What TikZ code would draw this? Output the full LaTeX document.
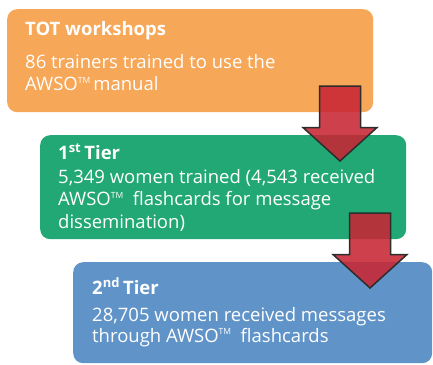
\documentclass[tikz,border=0pt]{standalone}
\usepackage{fontspec}
\setmainfont{Open Sans}
\usetikzlibrary{positioning}
\definecolor{totorange}{RGB}{247,167,88}
\definecolor{tiergreen}{RGB}{34,168,117}
\definecolor{tierblue}{RGB}{96,148,200}
\definecolor{arrowred}{RGB}{200,38,52}
\definecolor{arrowline}{RGB}{45,45,45}
% small trade mark after AWSO
\newcommand{\tmark}{\raisebox{.75ex}{\fontsize{8.5}{8.5}\selectfont TM}}
% block arrow pointing down, #1 is the middle of its top edge
\newcommand{\mkdownarrow}[1]{\draw[blockarrow] (#1) ++(-20.5,0) -- ++(0,41.5) -- ++(-16.5,0) -- ++(37,33.5) -- ++(37,-33.5) -- ++(-16.5,0) -- ++(0,-41.5) -- cycle;}

\begin{document}
\begin{tikzpicture}[
    x=1pt,y=-1pt,
    box/.style={rounded corners=10pt,inner sep=0pt,anchor=north west},
    title/.style={text=white,font=\fontsize{18.5}{22}\selectfont\bfseries,anchor=base west,inner sep=0pt},
    body/.style={text=white,font=\fontsize{18.5}{22.5}\selectfont,align=left,anchor=north west,inner sep=0pt},
    blockarrow/.style={fill=arrowred,fill opacity=.88,draw=arrowline,line width=1.5pt,line join=miter},
    ]
    \useasboundingbox (0,0) rectangle (433,364);

    % TOT workshops
    \node[box,fill=totorange,minimum width=366pt,minimum height=103pt] (tot) at (7,9) {};
    \node[title] (tottitle) at (25,35) {TOT workshops};
    \node[body] (totbody) at (25,54) {86 trainers trained to use the\\AWSO\tmark\,manual};

    % 1st tier
    \node[box,fill=tiergreen,minimum width=366pt,minimum height=104pt] (tier1) at (40,135) {};
    \node[title] (tier1title) at (58,159) {1\textsuperscript{st}\,Tier};
    \node[body] (tier1body) at (58,169) {5,349 women trained (4,543 received\\AWSO\tmark\ \ flashcards for message\\dissemination)};
    \coordinate (arr1) at (340,86);
    \mkdownarrow{arr1}

    % 2nd tier
    \node[box,fill=tierblue,minimum width=359pt,minimum height=101pt] (tier2) at (73,262) {};
    \node[title] (tier2title) at (92,294) {2\textsuperscript{nd}\,Tier};
    \node[body,font=\fontsize{18.5}{21}\selectfont] (tier2body) at (92,307) {28,705 women received messages\\through AWSO\tmark\ \ flashcards};
    \coordinate (arr2) at (370,213);
    \mkdownarrow{arr2}
  \end{tikzpicture}
\end{document}
